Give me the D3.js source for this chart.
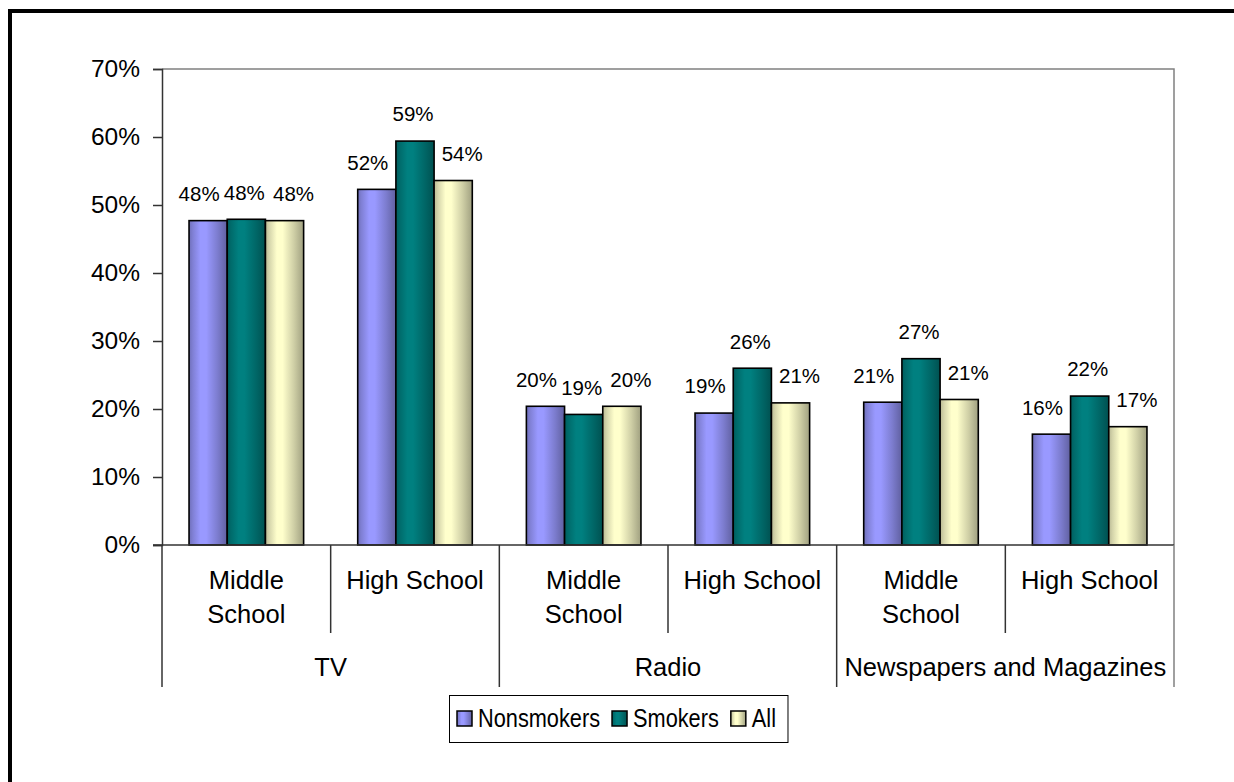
<!DOCTYPE html>
<html>
<head>
<meta charset="utf-8">
<script src="https://cdn.jsdelivr.net/npm/d3@7"></script>
<style>
  html, body { margin: 0; padding: 0; background: #fff; }
  svg { display: block; font-family: "Liberation Sans", Arial, sans-serif; }
</style>
</head>
<body>
<svg id="chart" width="1234" height="782"></svg>
<script>
// ---------- data ----------
const categories = ["Middle School", "High School", "Middle School", "High School", "Middle School", "High School"];
const mediaGroups = ["TV", "Radio", "Newspapers and Magazines"];
const seriesNames = ["Nonsmokers", "Smokers", "All"];
const nonsmokers = [47.7, 52.3, 20.4, 19.4, 21.0, 16.3];
const smokers    = [47.9, 59.4, 19.2, 26.0, 27.4, 21.9];
const allStudents = [47.7, 53.6, 20.4, 20.9, 21.4, 17.4];
const yTickValues = [0, 10, 20, 30, 40, 50, 60, 70];

// ---------- style ----------
const seriesColors = ["#9999FF", "#008080", "#FFFFCC"];
const labelDx = [-9, -2, 9];   // small per-series nudges of value labels

const seriesValues = [nonsmokers, smokers, allStudents];
const svg = d3.select("#chart");

// outer frame (left and top edges visible)
svg.append("path")
  .attr("d", "M10,800V11H1250")
  .attr("fill", "none").attr("stroke", "#000").attr("stroke-width", 4);

const plot = { left: 162, right: 1174, top: 69, bottom: 545 };

const x0 = d3.scaleBand().domain(d3.range(categories.length))
  .range([plot.left, plot.right]).paddingInner(0).paddingOuter(0);
const x1 = d3.scaleBand().domain(d3.range(seriesNames.length))
  .range([0, x0.bandwidth()]).paddingInner(0).paddingOuter(0.708);
const y = d3.scaleLinear().domain([0, 70]).range([plot.bottom, plot.top]);

// gradients
const defs = svg.append("defs");
seriesColors.forEach((c, i) => {
  const base = d3.rgb(c);
  const g = defs.append("linearGradient").attr("id", "grad" + i)
    .attr("x1", "0%").attr("x2", "100%").attr("y1", "0%").attr("y2", "0%");
  const stops = [
    [0, base.darker(0.9)],
    [0.1, base.darker(0.5)],
    [0.3, base],
    [0.45, base],
    [0.75, base.darker(0.6)],
    [1, base.darker(1.3)]
  ];
  stops.forEach(([o, col]) => g.append("stop").attr("offset", o).attr("stop-color", col.formatHex()));
});

// plot area frame (top + right, gray)
svg.append("path")
  .attr("d", `M${plot.left},${plot.top}H${plot.right}V${plot.bottom}`)
  .attr("fill", "none").attr("stroke", "#808080").attr("stroke-width", 1.5);

// y axis
const yAxis = d3.axisLeft(y).tickValues(yTickValues).tickSize(9).tickPadding(13)
  .tickFormat(d => d + "%");
const yg = svg.append("g").attr("transform", `translate(${plot.left},0)`).call(yAxis);
yg.select(".domain").attr("stroke", "#333").attr("stroke-width", 1.5);
yg.selectAll(".tick line").attr("stroke", "#333").attr("stroke-width", 1.5);
yg.selectAll(".tick text").attr("font-size", "24.5px").attr("fill", "#000")
  .attr("font-family", '"Liberation Sans", Arial, sans-serif');

// bars
const groups = svg.append("g").selectAll("g")
  .data(categories.map((c, i) => i))
  .join("g")
  .attr("transform", i => `translate(${x0(i)},0)`);

groups.selectAll("rect")
  .data(i => seriesValues.map((vals, s) => ({ s, v: vals[i] })))
  .join("rect")
  .attr("x", d => x1(d.s))
  .attr("y", d => y(d.v))
  .attr("width", x1.bandwidth())
  .attr("height", d => y(0) - y(d.v))
  .attr("fill", d => `url(#grad${d.s})`)
  .attr("stroke", "#000").attr("stroke-width", 1.6);

groups.selectAll("text")
  .data(i => seriesValues.map((vals, s) => ({ s, v: vals[i] })))
  .join("text")
  .attr("x", d => x1(d.s) + x1.bandwidth() / 2 + labelDx[d.s])
  .attr("y", d => y(d.v) - 27)
  .attr("dy", "0.36em")
  .attr("text-anchor", "middle")
  .attr("font-size", "20.5px")
  .text(d => Math.round(d.v) + "%");

// x axis line
const xa = svg.append("g");
xa.append("line")
  .attr("x1", plot.left - 9).attr("x2", plot.right)
  .attr("y1", plot.bottom).attr("y2", plot.bottom)
  .attr("stroke", "#333").attr("stroke-width", 1.5);

// category separators
const perGroup = categories.length / mediaGroups.length;
d3.range(categories.length + 1).forEach(i => {
  const xx = i < categories.length ? x0(i) : plot.right;
  const major = i % perGroup === 0;
  xa.append("line")
    .attr("x1", xx).attr("x2", xx)
    .attr("y1", plot.bottom).attr("y2", major ? 687 : 633)
    .attr("stroke", i === categories.length ? "#808080" : "#333")
    .attr("stroke-width", 1.5);
});

// category labels (wrapped)
function wrapLabel(sel, text, maxW) {
  const words = text.split(" ");
  const lines = [];
  let cur = [];
  const probe = sel.append("tspan");
  words.forEach(w => {
    const test = cur.concat(w).join(" ");
    probe.text(test);
    if (probe.node().getComputedTextLength() > maxW && cur.length) {
      lines.push(cur.join(" "));
      cur = [w];
    } else cur.push(w);
  });
  lines.push(cur.join(" "));
  probe.remove();
  lines.forEach((l, k) => {
    sel.append("tspan").attr("x", sel.attr("x")).attr("dy", k === 0 ? 0 : 34).text(l);
  });
}
categories.forEach((c, i) => {
  const t = xa.append("text")
    .attr("x", x0(i) + x0.bandwidth() / 2)
    .attr("y", 589)
    .attr("text-anchor", "middle")
    .attr("font-size", "25.5px");
  wrapLabel(t, c, 150);
});
mediaGroups.forEach((m, g) => {
  const xs = x0(g * perGroup);
  const xe = g * perGroup + perGroup < categories.length ? x0(g * perGroup + perGroup) : plot.right;
  xa.append("text")
    .attr("x", (xs + xe) / 2).attr("y", 676)
    .attr("text-anchor", "middle")
    .attr("font-size", "25.5px")
    .text(m);
});

// legend
const legend = svg.append("g");
const lgBox = legend.append("rect")
  .attr("x", 449.5).attr("y", 695.5).attr("height", 47)
  .attr("fill", "#fff").attr("stroke", "#000").attr("stroke-width", 1);
let lx = 457;
const squeeze = 0.87;
seriesNames.forEach((n, i) => {
  legend.append("rect")
    .attr("x", lx).attr("y", 711).attr("width", 15).attr("height", 15)
    .attr("fill", `url(#grad${i})`).attr("stroke", "#000").attr("stroke-width", 1.5);
  const t = legend.append("text")
    .attr("transform", `translate(${lx + 21},727) scale(${squeeze},1)`)
    .attr("font-size", "25px")
    .text(n);
  lx += 21 + t.node().getComputedTextLength() * squeeze + 12;
});
lgBox.attr("width", lx - 449.5);
</script>
</body>
</html>
